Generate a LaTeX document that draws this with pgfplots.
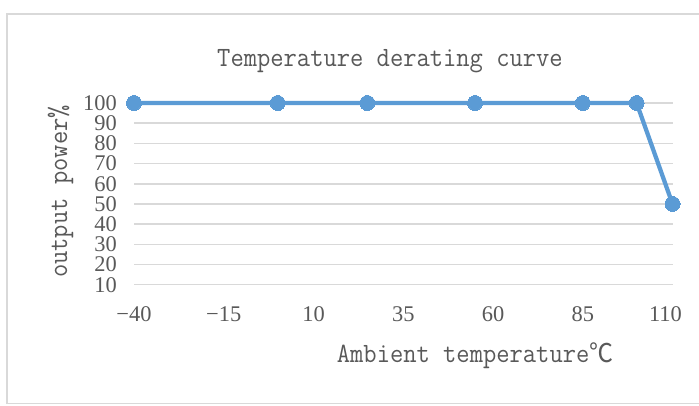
\documentclass[border=0pt]{standalone}
\usepackage{fontspec}
\setmainfont{Liberation Serif}
\newfontfamily\cjk{Noto Sans CJK SC}
\usepackage{pgfplots}
\pgfplotsset{compat=1.18}
\definecolor{txt}{HTML}{595959}
\definecolor{grd}{HTML}{D9D9D9}
\definecolor{ser}{HTML}{5B9BD5}
\begin{document}
\begin{tikzpicture}[x=1bp,y=1bp]
\useasboundingbox (0,0) rectangle (699,405);
\fill[white] (0,0) rectangle (699,405);
\draw[grd, line width=1.5bp] (7,1.7) rectangle (720,391);
\begin{axis}[
  at={(134bp,120.3bp)}, anchor=south west, scale only axis,
  width=538.5bp, height=181.7bp,
  xmin=-40, xmax=110, ymin=10, ymax=100,
  xtick={-40,-15,10,35,60,85,110},
  xticklabels={−40,−15,10,35,60,85,\hspace*{-14bp}110},
  ytick={10,20,...,100},
  axis line style={draw=none},
  major tick length=0pt,
  ymajorgrids, grid style={grd, line width=1.5bp},
  clip=false,
  tick label style={font=\fontsize{22.5}{22.5}\selectfont, text=txt, inner sep=0pt},
  yticklabel style={anchor=east, xshift=-17bp},
  xticklabel style={anchor=north, yshift=-22bp},
  /pgf/number format/assume math mode=true,
]
\addplot[ser, line width=4.25bp, mark=*, mark size=7.5bp, mark options={fill=ser, draw=ser, line width=0pt}] coordinates {(-40,100)(0,100)(25,100)(55,100)(85,100)(100,100)(110,50)};
\end{axis}
\node[anchor=base, text=txt, font=\ttfamily\fontsize{28}{28}\selectfont, inner sep=0pt, xscale=0.925] at (390,338.3) {Temperature derating curve};
\node[anchor=base west, text=txt, font=\ttfamily\fontsize{28}{28}\selectfont, inner sep=0pt, xscale=0.925] at (336.7,42.3) {Ambient temperature{\cjk\fontsize{26}{26}\selectfont ℃}};
\node[rotate=90, xscale=0.925, anchor=base, text=txt, font=\ttfamily\fontsize{28}{28}\selectfont, inner sep=0pt] at (67,213.5) {output power\%};
\end{tikzpicture}
\end{document}
